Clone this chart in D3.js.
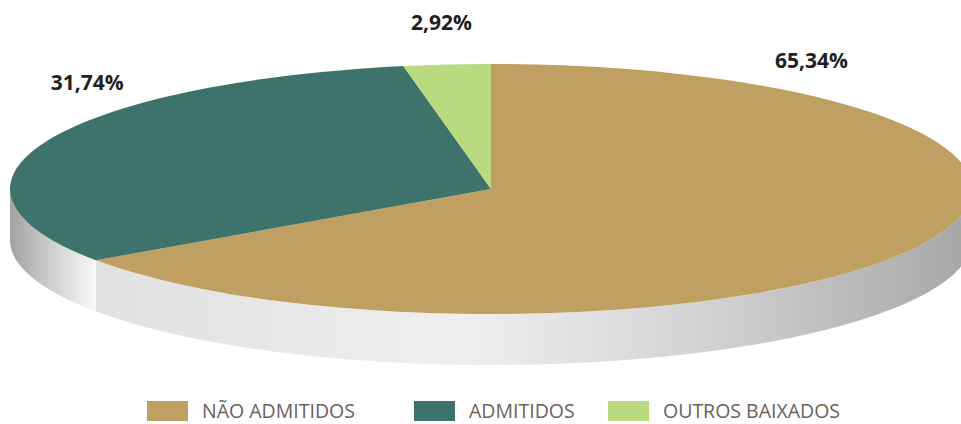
<!DOCTYPE html>
<html>
<head>
<meta charset="utf-8">
<script src="https://cdn.jsdelivr.net/npm/d3@7/dist/d3.min.js"></script>
<style>
  html, body { margin: 0; padding: 0; background: #ffffff; }
  svg { display: block; }
</style>
</head>
<body>
<svg id="chart" width="961" height="424"></svg>
<script>
// ---- data ----
const categories = ["NÃO ADMITIDOS", "ADMITIDOS", "OUTROS BAIXADOS"];
const values = [65.34, 31.74, 2.92];
const valueLabels = ["65,34%", "31,74%", "2,92%"];
const colors = ["#BFA062", "#3D736B", "#B8DB7F"];

(function () {
// ---- layout ----
const cx = 491, cy = 189, rx = 481, ry = 125, depth = 51;
// label placement: [angle in degrees clockwise from top, radius factor]
const labelPlacement = [[32.8, 1.23], [315.6, 1.2], [355.6, 1.34]];

const svg = d3.select("#chart");
const defs = svg.append("defs");

const pie = d3.pie().sort(null).value(d => d)(values);

function pt(a, dy) {
  return [cx + rx * Math.sin(a), cy - ry * Math.cos(a) + (dy || 0)];
}

// side gradients per slice (horizontal)
const sideGradients = [
  { id: "g0", stops: [[0, "#a6a6a6"], [0.3, "#d2d2d2"], [0.58, "#efefef"], [1, "#e1e1e1"]] },
  { id: "g1", stops: [[0, "#f8f8f8"], [0.5, "#d0d0d0"], [1, "#a2a2a2"]] },
  { id: "g2", stops: [[0, "#dddddd"], [1, "#bbbbbb"]] }
];

const line = d3.line();
const sideLayer = svg.append("g");
pie.forEach((p, i) => {
  const s = Math.max(p.startAngle, Math.PI / 2);
  const e = Math.min(p.endAngle, 3 * Math.PI / 2);
  if (s >= e) return;
  const n = 120;
  const angles = d3.range(n + 1).map(k => s + (e - s) * k / n);
  const topPts = angles.map(a => pt(a, 0));
  const botPts = angles.slice().reverse().map(a => pt(a, depth));
  const pts = topPts.concat(botPts);
  const gd = sideGradients[i];
  const g = defs.append("linearGradient")
    .attr("id", gd.id)
    .attr("gradientUnits", "userSpaceOnUse")
    .attr("x1", pt(s)[0]).attr("y1", 0)
    .attr("x2", pt(e)[0]).attr("y2", 0);
  gd.stops.forEach(st => g.append("stop").attr("offset", st[0]).attr("stop-color", st[1]));
  sideLayer.append("path")
    .attr("d", line(pts) + "Z")
    .attr("fill", `url(#${gd.id})`);
});

// top face: arcs in a vertically squashed group
const arc = d3.arc().innerRadius(0).outerRadius(rx);
const face = svg.append("g")
  .attr("transform", `translate(${cx},${cy}) scale(1,${ry / rx})`);
face.selectAll("path")
  .data(pie)
  .join("path")
  .attr("d", arc)
  .attr("fill", (d, i) => colors[i]);

// value labels
svg.append("g").selectAll("text")
  .data(pie)
  .join("text")
  .attr("x", (d, i) => cx + rx * labelPlacement[i][1] * Math.sin(labelPlacement[i][0] * Math.PI / 180))
  .attr("y", (d, i) => cy - ry * labelPlacement[i][1] * Math.cos(labelPlacement[i][0] * Math.PI / 180))
  .attr("text-anchor", "middle")
  .attr("dominant-baseline", "central")
  .attr("font-family", "'Open Sans', 'Noto Sans', sans-serif")
  .attr("font-weight", "bold")
  .attr("font-size", 21)
  .attr("fill", "#231f20")
  .text((d, i) => valueLabels[i]);

// legend
const legendX = [147, 414, 608];
const legend = svg.append("g");
categories.forEach((c, i) => {
  legend.append("rect")
    .attr("x", legendX[i]).attr("y", 401)
    .attr("width", 41).attr("height", 20)
    .attr("fill", colors[i]);
  legend.append("text")
    .attr("x", legendX[i] + 55).attr("y", 418)
    .attr("font-family", "'Open Sans', 'Noto Sans', sans-serif")
    .attr("font-size", 19.5)
    .attr("fill", "#6b625b")
    .text(c);
});
})();
</script>
</body>
</html>
